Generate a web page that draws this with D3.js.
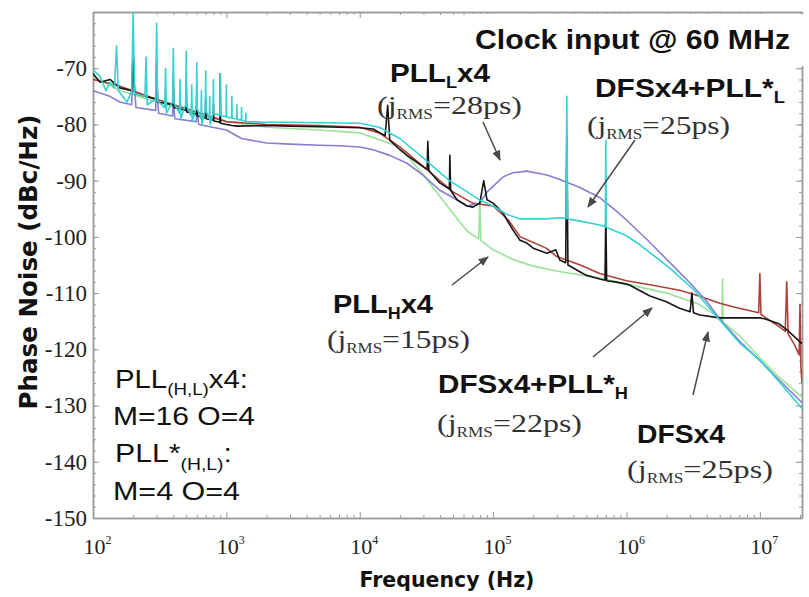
<!DOCTYPE html>
<html lang="en">
<head>
<meta charset="UTF-8">
<title>Phase noise vs frequency</title>
<script src="https://d3js.org/d3.v7.min.js"></script>
<style>
  body { margin: 0; background: #fff; }
  svg { display: block; }
</style>
</head>
<body>
<svg width="809" height="597"></svg>
<script>
// axis ticks
const xTicks = [1e2, 1e3, 1e4, 1e5, 1e6, 1e7];
const yTicks = [-150, -140, -130, -120, -110, -100, -90, -80, -70];

// series: [frequency Hz, phase noise dBc/Hz] (spurs included)
const pllH = [[100,-71.5],[160,-74],[300,-76],[600,-78],[1000,-79.5],[2e3,-80.5],[5e3,-81],
  [1e4,-81.5],[2e4,-84],[3e4,-89],[4.7e4,-95],[6.4e4,-99],[7.8e4,-100.4],[7.95e4,-93.5],[8.1e4,-100.6],[1e5,-102.3],[1.4e5,-104],[2e5,-105.2],
  [3.2e5,-106.2],[6.3e5,-107.3],[1e6,-108.4],[2e6,-110],[3.5e6,-112],[5e6,-114.4],[5.2e6,-114.8],[5.25e6,-107.5],[5.3e6,-115.2],[7e6,-117.5],
  [1e7,-121.5],[1.4e7,-125],[2.07e7,-128.5]];

const dfsPllH = [[100,-72],[150,-73],[300,-75.5],[1000,-79.5],[2e3,-80],[5e3,-80.2],[1e4,-80.5],[1.4e4,-81.5],[2e4,-84],[3e4,-87.5],[5e4,-92],
  [7e4,-94],[1e5,-94.5],[1.3e5,-97],[1.6e5,-100],[2e5,-101],[2.5e5,-102],[3e5,-103.5],[4.5e5,-105],[6.3e5,-106.5],[1e6,-107.8],[1.5e6,-108.5],
  [2.5e6,-109.5],[3.5e6,-110.5],[5e6,-111.8],[6.5e6,-112.5],[8e6,-113],[9.8e6,-113.5],[1e7,-106.5],[1.02e7,-113.8],[1.4e7,-116],[1.55e7,-116.8],
  [1.59e7,-108],[1.63e7,-117.3],[1.8e7,-119],[1.97e7,-121],[2.0e7,-112],[2.03e7,-123],[2.07e7,-126]];

const pllL = [[100,-74],[134,-75],[159,-76],[195,-76.5],[200,-70],[210,-77],[295,-77.5],[300,-72],[310,-78],[395,-78.5],[400,-75],[410,-79],
  [595,-79.5],[600,-77],[620,-80],[1000,-81],[1.3e3,-82.5],[2e3,-83.3],[3e3,-83.5],[5e3,-83.7],[7.1e3,-83.8],[1e4,-84],[1.26e4,-84.5],[1.68e4,-85.5],
  [2.26e4,-86.9],[2.98e4,-89],[3.98e4,-91.7],[5.36e4,-93.4],[6.37e4,-94.5],[7.95e4,-94],[9e4,-92],[1e5,-91],[1.19e5,-89.3],[1.41e5,-88.6],
  [1.79e5,-88.3],[2.53e5,-89],[3.16e5,-89.8],[4.47e5,-91.2],[6.3e5,-93],[8.2e5,-95.2],[1e6,-97],[1.5e6,-101],[2e6,-104],[3e6,-108.2],[4e6,-111.5],
  [5e6,-114.6],[7e6,-118.5],[1e7,-122],[1.4e7,-125.5],[2.07e7,-129.5]];

const dfsPllL = [[100,-70.3],[113,-71.5],[125,-74],[134,-72.5],[145,-73.5],[150,-66],[155,-74],[180,-76],[195,-74],[200,-60],[205,-74.5],
  [245,-75],[250,-68],[255,-76.5],[295,-75.5],[300,-62],[305,-75.8],[345,-77],[350,-70],[355,-78],[395,-76],[400,-66.5],[405,-76.2],
  [445,-78],[450,-72],[455,-79],[495,-76.5],[500,-67],[505,-76.8],[545,-78.5],[550,-73],[555,-79.5],[595,-77],[600,-69],[605,-77.2],
  [645,-79],[650,-74],[655,-80],[695,-77.4],[700,-70.5],[705,-77.6],[745,-79],[750,-75],[755,-80],[795,-78],[800,-72],[805,-78.1],
  [895,-78.3],[900,-71],[905,-78.4],[995,-78.6],[1000,-73],[1005,-78.7],[1095,-78.8],[1100,-75],[1105,-78.9],[1195,-79],[1200,-76.5],
  [1205,-79.1],[1295,-79.2],[1300,-77],[1305,-79.3],[1395,-79.4],[1400,-78],[1405,-79.5],[2e3,-79.6],[3e3,-79.6],[5e3,-79.7],[1e4,-79.8],
  [1.4e4,-80.5],[2e4,-82.5],[3e4,-86],[4.7e4,-90],[6.4e4,-92],[8e4,-93.5],[1e5,-94.5],[1.27e5,-96],[1.6e5,-96.8],[2.5e5,-96.8],
  [3.16e5,-96.6],[3.52e5,-96.7],[3.57e5,-75],[3.62e5,-96.8],[4.5e5,-97.2],[6.3e5,-97.9],[6.95e5,-98.2],[7e5,-82.8],[7.05e5,-98.3],
  [1e6,-99.8],[1.26e6,-101.4],[1.5e6,-102.8],[2.1e6,-105.5],[3.2e6,-109.4],[5e6,-114.8],[7e6,-118.8],[1e7,-121.9],[1.4e7,-125.8],
  [2.07e7,-130.5]];

const dfsX4 = [[100,-71],[113,-72.5],[134,-72],[159,-73.5],[195,-74],[200,-67],[205,-74.5],[245,-75],[295,-75.5],[300,-69],[305,-76],
  [395,-76.5],[400,-72],[405,-77],[495,-77.5],[500,-73.5],[505,-77.8],[595,-78.2],[600,-74.5],[605,-78.5],[695,-78.8],[700,-75.5],[705,-79],
  [795,-79.2],[800,-76.5],[805,-79.4],[895,-79.6],[900,-71],[905,-79.8],[1000,-80],[1100,-80.2],[1200,-80.3],[2e3,-80.2],[3e3,-80.3],
  [5e3,-80.4],[7.1e3,-80.5],[1e4,-80.6],[1.26e4,-80.8],[1.42e4,-81.5],[1.55e4,-82],[1.62e4,-76.6],[1.68e4,-82.8],[2e4,-84.5],[2.26e4,-85.5],
  [2.98e4,-87.5],[3.2e4,-88],[3.24e4,-83],[3.3e4,-88.2],[3.98e4,-90.4],[4.7e4,-91.5],[4.74e4,-85.5],[4.8e4,-91.7],[5.36e4,-93.4],
  [6.37e4,-94.5],[7.06e4,-94.7],[7.95e4,-94],[8.5e4,-90],[9e4,-93.4],[1e5,-94],[1.19e5,-95.8],[1.27e5,-97],[1.41e5,-98.8],[1.59e5,-100.6],
  [1.79e5,-101.1],[2e5,-102],[2.53e5,-102.9],[2.95e5,-102.3],[3.16e5,-104.1],[3.5e5,-104.6],[3.57e5,-82],[3.64e5,-105],[4.47e5,-106.2],
  [4.96e5,-106.8],[6.3e5,-107.5],[6.9e5,-107.7],[7e5,-96],[7.1e5,-107.8],[8.2e5,-108],[1e6,-108.4],[1.06e6,-108.6],[1.5e6,-110.5],
  [1.97e6,-111.5],[2.5e6,-112.7],[3.0e6,-113.3],[3.09e6,-110],[3.18e6,-113.5],[3.55e6,-113.9],[5e6,-114.4],[6.3e6,-114.4],[7.6e6,-114.4],
  [1e7,-114.4],[1.1e7,-114.6],[1.4e7,-115.5],[1.59e7,-116.5],[2.07e7,-119]];

const seriesList = [
  { name: "PLL_H x4", data: pllH, color: "#9be39b" },
  { name: "DFS x4 + PLL*_H", data: dfsPllH, color: "#b0403a" },
  { name: "PLL_L x4", data: pllL, color: "#8580d0" },
  { name: "DFS x4", data: dfsX4, color: "#151515" },
  { name: "DFS x4 + PLL*_L", data: dfsPllL, color: "#35d2d2" }
];

const svg = d3.select("svg");
const x = d3.scaleLog().domain([1e2, 2.07e7]).range([93, 802]);
const y = d3.scaleLinear().domain([-150, -60]).range([518, 12]);
const axisColor = "#9a9a9a";

// clip to plot
svg.append("defs").append("clipPath").attr("id", "plotclip")
  .append("rect").attr("x", x.range()[0]).attr("y", y.range()[1])
  .attr("width", x.range()[1] - x.range()[0]).attr("height", y.range()[0] - y.range()[1]);

const marker = svg.select("defs").append("marker")
  .attr("id", "arrow").attr("viewBox", "0 0 10 10").attr("refX", 9).attr("refY", 5)
  .attr("markerWidth", 7).attr("markerHeight", 7).attr("orient", "auto-start-reverse");
marker.append("path").attr("d", "M0,1 L10,5 L0,9 z").attr("fill", "#4a4a4a");

// minor tick values
const xMinor = [];
for (let d = 1e2; d < 2e7; d *= 10) for (let k = 2; k <= 9; k++) if (d * k <= 2.07e7) xMinor.push(d * k);
const yMinor = d3.range(-150, -59, 2);

function styleAxis(g) {
  g.select(".domain").attr("stroke", axisColor).attr("stroke-width", 1.5);
  g.selectAll(".tick line").attr("stroke", axisColor).attr("stroke-width", 1);
}

// bottom axis
const gx = svg.append("g").attr("transform", `translate(0,${y(-150)})`)
  .call(d3.axisBottom(x).tickValues(xTicks).tickSize(-6).tickSizeOuter(0).tickFormat(d => Math.round(Math.log10(d))))
  .call(styleAxis);
gx.selectAll(".tick text").each(function(d) {
  const t = d3.select(this);
  const e = Math.round(Math.log10(d));
  t.text(null).attr("y", 36).attr("dy", 0).attr("x", 4)
    .attr("font-family", "'Liberation Serif', serif").attr("font-size", 22).attr("fill", "#222");
  t.append("tspan").text("10");
  t.append("tspan").attr("dy", -10).attr("font-size", 12).text(e);
});
svg.append("g").attr("transform", `translate(0,${y(-150)})`)
  .call(d3.axisBottom(x).tickValues(xMinor).tickSize(-3).tickSizeOuter(0).tickFormat(""))
  .call(styleAxis);

// top frame
svg.append("g").attr("transform", `translate(0,${y(-60)})`)
  .call(d3.axisTop(x).tickValues(xTicks).tickSize(-6).tickSizeOuter(0).tickFormat(""))
  .call(styleAxis);
svg.append("g").attr("transform", `translate(0,${y(-60)})`)
  .call(d3.axisTop(x).tickValues(xMinor).tickSize(-3).tickSizeOuter(0).tickFormat(""))
  .call(styleAxis);

// left axis
const gy = svg.append("g").attr("transform", `translate(${x(1e2)},0)`)
  .call(d3.axisLeft(y).tickValues(yTicks).tickSize(-6).tickSizeOuter(0).tickPadding(6).tickFormat(d => d))
  .call(styleAxis);
gy.selectAll(".tick text").attr("font-family", "'Liberation Serif', serif").attr("font-size", 23).attr("fill", "#222");
svg.append("g").attr("transform", `translate(${x(1e2)},0)`)
  .call(d3.axisLeft(y).tickValues(yMinor).tickSize(-3).tickSizeOuter(0).tickFormat(""))
  .call(styleAxis);

// right frame
svg.append("g").attr("transform", `translate(${x(2.07e7)},0)`)
  .call(d3.axisRight(y).tickValues(yTicks).tickSize(-6).tickSizeOuter(0).tickFormat(""))
  .call(styleAxis);
svg.append("g").attr("transform", `translate(${x(2.07e7)},0)`)
  .call(d3.axisRight(y).tickValues(yMinor).tickSize(-3).tickSizeOuter(0).tickFormat(""))
  .call(styleAxis);

// curves
const line = d3.line().x(d => x(d[0])).y(d => y(d[1]));
svg.append("g").attr("clip-path", "url(#plotclip)")
  .selectAll("path").data(seriesList).join("path")
  .attr("d", d => line(d.data))
  .attr("fill", "none")
  .attr("stroke", d => d.color)
  .attr("stroke-width", 1.6)
  .attr("stroke-linejoin", "round");

// axis titles
svg.append("text")
  .attr("transform", "translate(37,262) rotate(-90)")
  .attr("text-anchor", "middle")
  .attr("font-family", "'DejaVu Sans', sans-serif").attr("font-weight", "bold").attr("font-size", 24)
  .attr("textLength", 295).attr("lengthAdjust", "spacingAndGlyphs")
  .attr("fill", "#111").text("Phase Noise (dBc/Hz)");
svg.append("text")
  .attr("x", 447).attr("y", 587).attr("text-anchor", "middle")
  .attr("font-family", "'DejaVu Sans', sans-serif").attr("font-weight", "bold").attr("font-size", 22)
  .attr("textLength", 175).attr("lengthAdjust", "spacingAndGlyphs")
  .attr("fill", "#111").text("Frequency (Hz)");

// white box behind the clock input title
svg.append("rect").attr("x", 468).attr("y", 14).attr("width", 341).attr("height", 52).attr("fill", "#fff");

// annotations
function label(px, py, len, parts, opts) {
  const t = svg.append("text").attr("x", px).attr("y", py)
    .attr("font-family", opts.serif ? "'Liberation Serif', serif" : "'Liberation Sans', Arial, sans-serif")
    .attr("font-weight", opts.bold ? "bold" : "normal")
    .attr("font-size", opts.size).attr("fill", opts.color || "#111")
    .attr("textLength", len).attr("lengthAdjust", "spacingAndGlyphs");
  let shift = 0;
  parts.forEach(p => {
    const s = typeof p === "string" ? { t: p, dy: 0 } : p;
    const ts = t.append("tspan").text(s.t).attr("dy", s.dy - shift);
    if (s.size) ts.attr("font-size", s.size);
    shift = s.dy;
  });
  return t;
}
const bold = { bold: true, size: 26 };
const jrms = { serif: true, size: 26, color: "#333" };
const sub = t => ({ t, dy: 6, size: 16 });
const rms = { t: "RMS", dy: 5, size: 14 };

label(475, 49, 315, ["Clock input @ 60 MHz"], { bold: true, size: 28 });
label(390, 82, 100, ["PLL", sub("L"), "x4"], bold);
label(377, 114, 145, ["(j", rms, "=28ps)"], jrms);
label(595, 97, 190, ["DFSx4+PLL*", sub("L")], bold);
label(587, 134, 143, ["(j", rms, "=25ps)"], jrms);
label(333, 313, 100, ["PLL", sub("H"), "x4"], bold);
label(327, 348, 143, ["(j", rms, "=15ps)"], jrms);
label(438, 393, 190, ["DFSx4+PLL*", sub("H")], bold);
label(437, 432, 145, ["(j", rms, "=22ps)"], jrms);
label(637, 443, 88, ["DFSx4"], bold);
label(627, 478, 146, ["(j", rms, "=25ps)"], jrms);

const box = { size: 25 };
label(115, 388, 133, ["PLL", { t: "(H,L)", dy: 7, size: 16 }, "x4:"], box);
label(113, 425, 142, ["M=16 O=4"], box);
label(115, 462, 117, ["PLL*", { t: "(H,L)", dy: 8, size: 16 }, ":"], box);
label(113, 500, 127, ["M=4 O=4"], box);

// arrows
const arrows = [
  [483, 122, 500, 160],
  [635, 140, 588, 207],
  [452, 285, 488, 257],
  [593, 357, 652, 308],
  [693, 395, 708, 332]
];
svg.append("g").selectAll("line").data(arrows).join("line")
  .attr("x1", d => d[0]).attr("y1", d => d[1]).attr("x2", d => d[2]).attr("y2", d => d[3])
  .attr("stroke", "#4a4a4a").attr("stroke-width", 1.5).attr("marker-end", "url(#arrow)");
</script>
</body>
</html>
